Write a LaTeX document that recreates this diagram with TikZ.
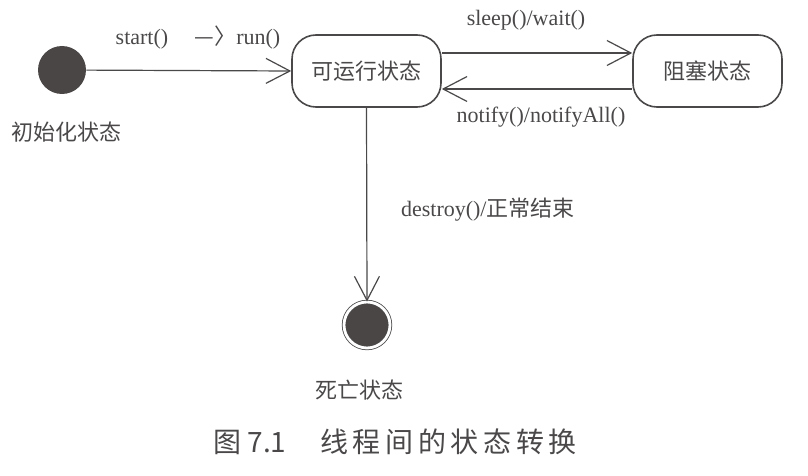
\documentclass[tikz,border=0pt]{standalone}
\usepackage{fontspec}
\setmainfont{Liberation Serif}
\newfontfamily\cjk{Noto Sans CJK SC}
\usetikzlibrary{arrows.meta,positioning}
\definecolor{linegray}{HTML}{4A4848}
\definecolor{dotgray}{HTML}{4B4646}
\tikzset{font=\fontsize{11}{13}\selectfont}
\tikzset{every node/.append style={text=linegray}}
\tikzset{statebox/.style={draw=linegray, thick, rounded corners=12pt,
    minimum width=74.5pt, minimum height=36pt, font=\cjk\fontsize{11}{13}\selectfont}}
\tikzset{initstate/.style={circle, fill=dotgray, minimum size=24pt, inner sep=0pt}}
\tikzset{endstate/.style={circle, fill=dotgray, draw=linegray, double=white,
    double distance=1.4pt, minimum size=23pt, inner sep=0pt}}
\tikzset{trans/.style={draw=linegray, semithick, -{Straight Barb[length=12pt,width=12.5pt]}}}
\tikzset{caption/.style={font=\cjk\fontsize{11}{13}\selectfont}}

\begin{document}
\begin{tikzpicture}[x=0.5pt,y=-0.5pt]
\useasboundingbox (0,0) rectangle (808,476);
\node[initstate] (init) at (62,70) {};
\node[caption] (initlbl) at (66,132) {初始化状态};
\node[statebox] (runnable) at (366.5,71) {可运行状态};
\node[statebox] (blocked) at (707.5,71) {阻塞状态};
\node[endstate] (dead) at (367,325) {};
\node[caption] (deadlbl) at (359,390) {死亡状态};

\draw[trans] (init) -- (runnable.west);
\draw[trans] ([yshift=9pt]runnable.east) -- ([yshift=9pt]blocked.west);
\draw[trans] ([yshift=-9pt]blocked.west) -- ([yshift=-9pt]runnable.east);
\draw[trans] (runnable.south) -- (dead.north);

\node (startlbl) at (198,38) {start()\hspace{1.2em}{\cjk —〉}run()};
\node (sleeplbl) at (526,20) {sleep()/wait()};
\node (notifylbl) at (541,117) {notify()/notifyAll()};
\node[anchor=west] (destroylbl) at (394,210) {destroy()/{\cjk 正常结束}};

\node[font=\cjk\fontsize{14}{16}\selectfont] (fig) at (395,442) {图 7.1\hspace{1.2em}线\,程\,间\,的\,状\,态\,转\,换};
\end{tikzpicture}
\end{document}
